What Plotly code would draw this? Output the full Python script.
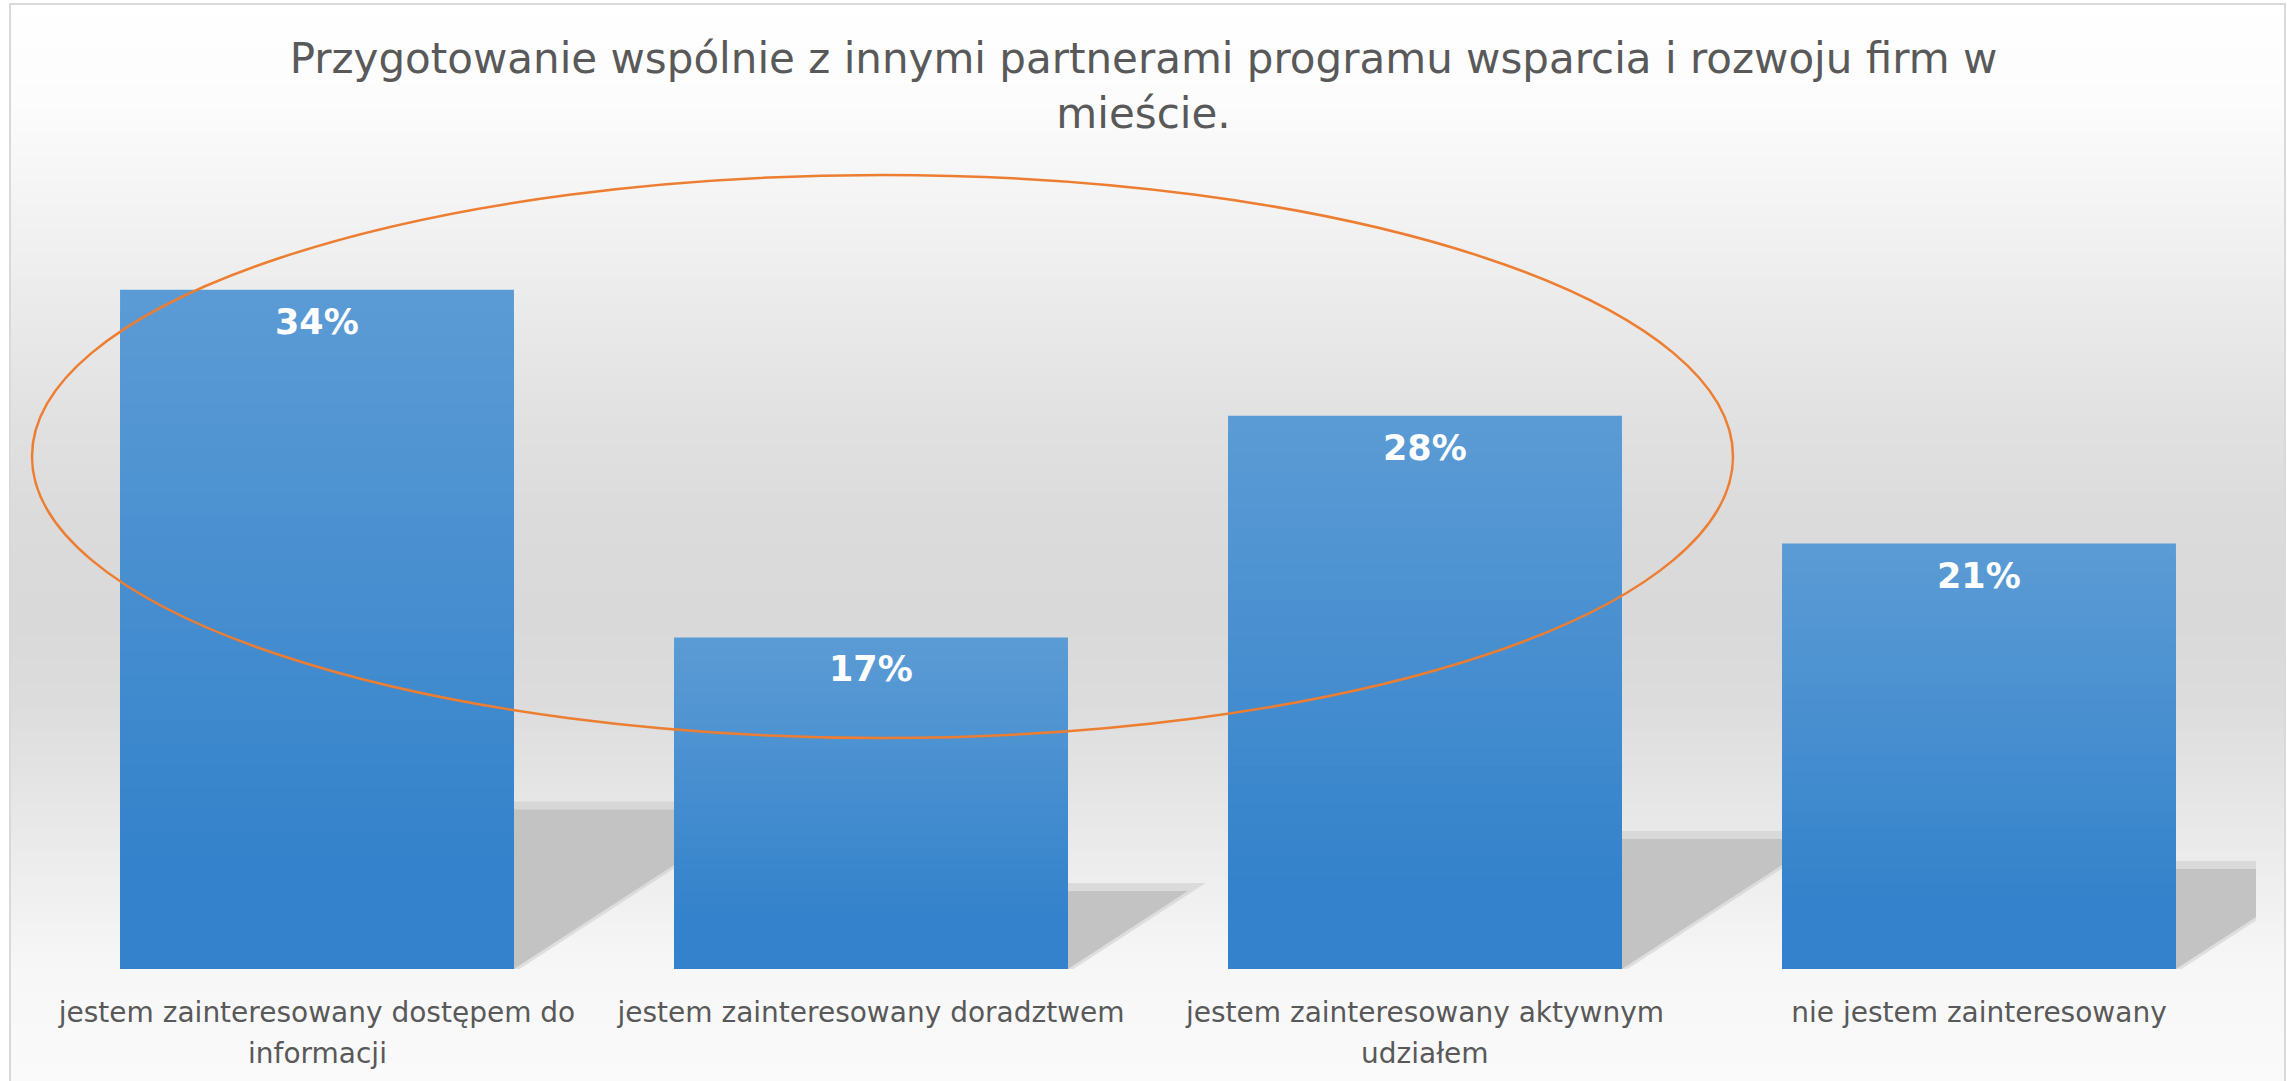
import numpy as np
import plotly.graph_objects as go

# chart data
categories = ["jestem zainteresowany dostępem do informacji",
              "jestem zainteresowany doradztwem",
              "jestem zainteresowany aktywnym udziałem",
              "nie jestem zainteresowany"]
tick_line1 = ["jestem zainteresowany dostępem do",
              "jestem zainteresowany doradztwem",
              "jestem zainteresowany aktywnym",
              "nie jestem zainteresowany"]
tick_line2 = ["informacji", "", "udziałem", ""]
values = [0.340, 0.166, 0.277, 0.213]

title_text = ("Przygotowanie wspólnie z innymi partnerami programu wsparcia i rozwoju firm w"
              "<br>mieście.")

W, H = 2287, 1081
L, R, T, B = 40, 31, 170, 112          # plot area margins (px)
pw, ph = W - L - R, H - T - B
FONT = "DejaVu Sans, Verdana, sans-serif"
TXT = "#595959"

xs = np.arange(len(categories))
vals = np.array(values)
bar_w = 0.711

fig = go.Figure()

# perspective shadows lying behind the bars (base axes, drawn first)
hs = 0.235 * vals                           # shadow height (data units)
dx = hs * (ph / 0.40) / (0.65 * (pw / 4))   # skew to the right (category units)
for grow, col in [(0.010, "rgba(200,200,200,0.5)"), (0.0, "#c3c3c3")]:
    for i in range(len(xs)):
        x0, x1 = xs[i] - bar_w / 2, xs[i] + bar_w / 2
        h = hs[i] + grow * 0.4
        d = dx[i] * (h / hs[i])
        fig.add_trace(go.Scatter(
            x=[x0, x1 + grow, x1 + d + grow, x0 + d, x0],
            y=[0, 0, h, h, 0],
            fill="toself", fillcolor=col, mode="lines", line=dict(width=0),
            hoverinfo="skip", showlegend=False))

# bars with vertical gradient, built from overlaid layers (overlay axes, on top)
top_c = np.array([91, 155, 213])
bot_c = np.array([52, 130, 203])
N = 30
for k in range(N):
    t = min(k / (N - 1) / 0.85, 1.0)
    c = top_c + (bot_c - top_c) * t
    fig.add_trace(go.Bar(
        x=xs, y=vals * (1 - k / N), width=bar_w, xaxis="x2", yaxis="y2",
        marker=dict(color="rgb(%d,%d,%d)" % tuple(c.round()), line=dict(width=0)),
        hoverinfo="skip" if k else "x+y", showlegend=False))

# value labels
for i in range(len(xs)):
    fig.add_annotation(x=xs[i], y=vals[i], xref="x2", yref="y2",
                       text="<b>%d%%</b>" % round(vals[i] * 100),
                       showarrow=False, yanchor="top", yshift=-10,
                       font=dict(family=FONT, size=35, color="white"))

def px_x(p):
    return (p - L) / pw

def px_y(p):
    return (H - B - p) / ph

# second lines of the category labels
for i in range(len(xs)):
    if tick_line2[i]:
        fig.add_annotation(x=xs[i], y=px_y(1053), xref="x", yref="paper",
                           text=tick_line2[i], showarrow=False, yanchor="middle",
                           font=dict(family=FONT, size=28, color=TXT))

# background gradient of the chart area
stops_y = [0, 100, 200, 290, 420, 520, 620, 700, 780, 860, 969, 1081]
stops_g = [255, 252, 244, 236, 225, 219, 217, 220, 228, 236, 247, 250]
shapes = []
step = 6
for y0 in range(0, H, step):
    g = int(round(np.interp(y0 + step / 2, stops_y, stops_g)))
    shapes.append(dict(type="rect", xref="paper", yref="paper", layer="below",
                       x0=px_x(10), x1=px_x(2285), y0=px_y(y0), y1=px_y(y0 + step + 1),
                       fillcolor="rgb(%d,%d,%d)" % (g, g, g), line=dict(width=0)))
shapes.append(dict(type="rect", xref="paper", yref="paper", layer="below",
                   x0=px_x(10), x1=px_x(2285), y0=px_y(4), y1=px_y(H + 5),
                   fillcolor="rgba(0,0,0,0)", line=dict(color="#d9d9d9", width=2)))
# highlight ellipse
shapes.append(dict(type="circle", xref="paper", yref="paper", layer="above",
                   x0=px_x(32), x1=px_x(1733), y0=px_y(738), y1=px_y(175),
                   line=dict(color="#ED7D31", width=2.5)))

axis_common = dict(range=[-0.5, 3.5], showgrid=False, zeroline=False, showline=False)
fig.update_layout(
    width=W, height=H,
    margin=dict(l=L, r=R, t=T, b=B),
    paper_bgcolor="white", plot_bgcolor="rgba(0,0,0,0)",
    barmode="overlay",
    shapes=shapes,
    title=dict(text=title_text, x=0.5, xref="container", xanchor="center",
               y=1 - 73 / H, yref="container", yanchor="top",
               font=dict(family=FONT, size=42, color=TXT)),
    xaxis=dict(**axis_common, tickvals=xs, ticktext=tick_line1, ticks="",
               ticklabelstandoff=24,
               tickfont=dict(family=FONT, size=28, color=TXT)),
    yaxis=dict(range=[0, 0.40], visible=False, showgrid=False, zeroline=False),
    xaxis2=dict(**axis_common, overlaying="x", visible=False),
    yaxis2=dict(range=[0, 0.40], overlaying="y", visible=False,
                showgrid=False, zeroline=False),
)

fig.write_html("out.html", config={"displayModeBar": False},
               post_script="document.body.style.margin='0';")
